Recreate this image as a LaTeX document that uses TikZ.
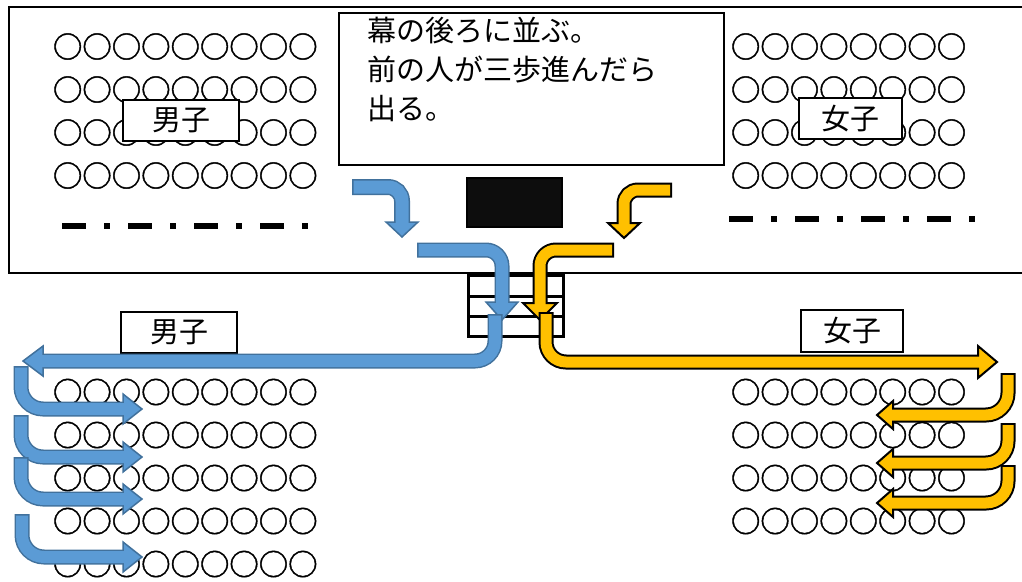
\documentclass[tikz,border=0pt]{standalone}
\usepackage{fontspec}
\newfontfamily\cjk{Noto Sans CJK JP}
\newfontfamily\seatfont[FakeBold=1.5]{Noto Sans CJK JP}
\definecolor{bfill}{HTML}{5B9BD5}
\definecolor{bline}{HTML}{41719C}
\definecolor{yfill}{HTML}{FFC000}
\definecolor{yline}{HTML}{000000}
\definecolor{stagebox}{HTML}{0D0D0D}
% #1 fill, #2 border, #3 border width, #4 shaft fill width, #5 radius, #6 shaft path, #7 head path
\newcommand\fatarrow[7]{%
  \draw[line width=#4pt+2*#3pt, draw=#2, rounded corners=#5pt, line cap=butt] #6;
  \filldraw[fill=#1, draw=#2, line width=#3pt, line join=miter] #7 -- cycle;
  \draw[line width=#4pt, draw=#1, rounded corners=#5pt, line cap=butt, shorten <=#3pt, shorten >=-#3pt] #6;
}
\begin{document}
\begin{tikzpicture}[x=1pt,y=-1pt,
  seat/.style={font=\seatfont\fontsize{29.4}{30}\selectfont, inner sep=0pt, anchor=base west},
  tagbox/.style={draw, line width=2pt, fill=white, inner sep=0pt, font=\cjk\fontsize{29}{30}\selectfont},
  dashline/.style={line width=6pt, dash pattern=on 24pt off 18pt on 6pt off 18pt},
  stepbox/.style={draw, line width=2.5pt, fill=white}]
\useasboundingbox (0,0) rectangle (1022,581);
% stage
\draw[line width=2.5pt] (1030,7) -- (9,7) -- (9,273) -- (1030,273);
% seats top
\foreach \yy in {46.5,89.5,132.5,175.5} {
  \node[seat] at (52.8,\yy+11.2) {○○○○○○○○○};
  \node[seat] at (730.8,\yy+11.2) {○○○○○○○○};
}
% seats bottom
\foreach \yy in {392,435,478,521,564} {
  \node[seat] at (52.8,\yy+11.2) {○○○○○○○○○};
}
\foreach \yy in {392,435,478,521} {
  \node[seat] at (730.8,\yy+11.2) {○○○○○○○○};
}
% instruction box
\node[draw, line width=2pt, minimum width=385pt, minimum height=152pt, anchor=north west, inner sep=0pt] (note) at (338,12) {};
\node[anchor=north west, align=left, inner sep=0pt, font=\cjk\fontsize{29}{39}\selectfont] (notetext) at (367,17) {幕の後ろに並ぶ。\\前の人が三歩進んだら\\出る。};
% labels
\node[tagbox, minimum width=116pt, minimum height=41pt] (boysTop) at (181,120.5) {男子};
\node[tagbox, minimum width=103pt, minimum height=41pt] (girlsTop) at (850.5,118.5) {女子};
\node[tagbox, minimum width=116pt, minimum height=41pt] (boysLow) at (179,332.5) {男子};
\node[tagbox, minimum width=102pt, minimum height=42pt] (girlsLow) at (852,331) {女子};
% dash lines
\draw[dashline] (62,226) -- (308,226);
\draw[dashline] (729,219) -- (975,219);
% podium
\node[draw, line width=1.5pt, fill=stagebox, minimum width=95pt, minimum height=49pt, inner sep=0pt, anchor=north west] (podium) at (466,177) {};
% stairs
\node[stepbox, minimum width=95pt, minimum height=21pt, inner sep=0pt, anchor=north west] (step1) at (467,274) {};
\node[stepbox, minimum width=95pt, minimum height=20pt, inner sep=0pt, anchor=north west] (step2) at (467,295) {};
\node[stepbox, minimum width=95pt, minimum height=20pt, inner sep=0pt, anchor=north west] (step3) at (467,315) {};
% blue arrows
\fatarrow{bfill}{bline}{1.5}{13}{14}{(352,187) -- (402,187) -- (402,222)}{(386,222) -- (418,222) -- (402,237)}
\fatarrow{bfill}{bline}{1.5}{12}{16}{(417,250) -- (502,250) -- (502,302)}{(486,302) -- (518,302) -- (502,320)}
\fatarrow{bfill}{bline}{1.5}{12}{20}{(495,314) -- (495,361) -- (43,361)}{(43,346) -- (43,376) -- (23,361)}
\fatarrow{bfill}{bline}{1.5}{12}{22}{(21,366) -- (21,409) -- (123,409)}{(123,394) -- (123,424) -- (142,409)}
\fatarrow{bfill}{bline}{1.5}{12}{22}{(21,415) -- (21,457) -- (123,457)}{(123,442) -- (123,472) -- (142,457)}
\fatarrow{bfill}{bline}{1.5}{12}{22}{(21,457) -- (21,499) -- (123,499)}{(123,484) -- (123,514) -- (142,499)}
\fatarrow{bfill}{bline}{1.5}{12}{22}{(22,514) -- (22,557) -- (123,557)}{(123,542) -- (123,572) -- (142,557)}
% yellow arrows
\fatarrow{yfill}{yline}{2}{11}{14}{(672,190) -- (624,190) -- (624,223)}{(608,223) -- (640,223) -- (624,238)}
\fatarrow{yfill}{yline}{2}{11}{16}{(614,250) -- (540,250) -- (540,303)}{(523,303) -- (557,303) -- (540,320)}
\fatarrow{yfill}{yline}{2}{11}{20}{(546,312) -- (546,362) -- (978,362)}{(978,346) -- (978,378) -- (997,362)}
\fatarrow{yfill}{yline}{2}{11}{22}{(1008,373) -- (1008,415) -- (893,415)}{(893,401) -- (893,429) -- (877,415)}
\fatarrow{yfill}{yline}{2}{11}{22}{(1008,423) -- (1008,463) -- (893,463)}{(893,449) -- (893,477) -- (877,463)}
\fatarrow{yfill}{yline}{2}{11}{22}{(1008,465) -- (1008,503) -- (893,503)}{(893,489) -- (893,517) -- (877,503)}
\end{tikzpicture}
\end{document}
